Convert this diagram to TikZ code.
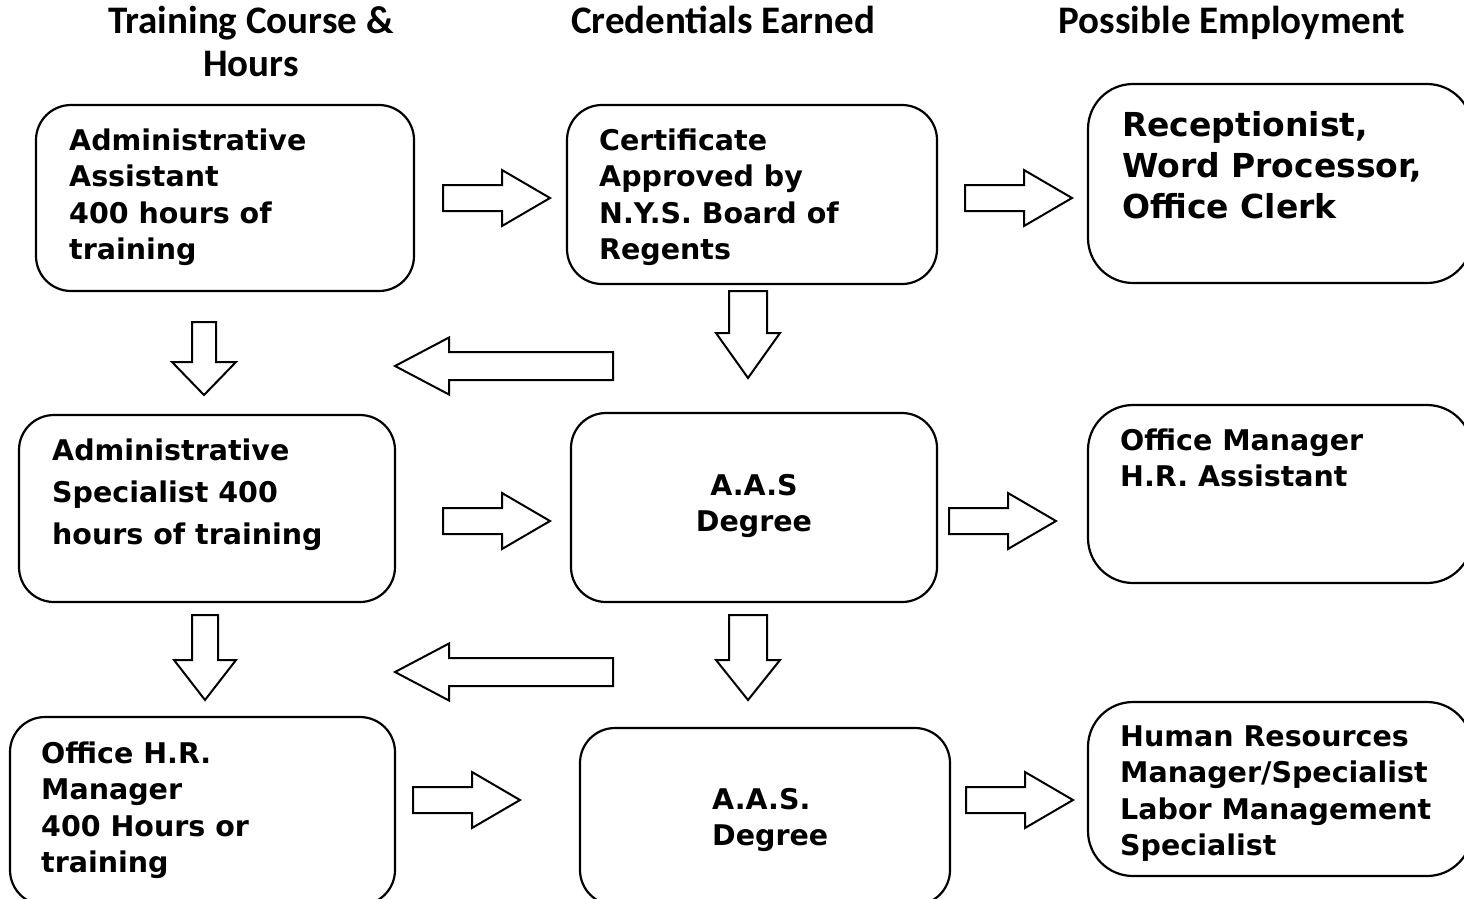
\documentclass[tikz,border=0pt]{standalone}
\usepackage{fontspec}
\setmainfont{DejaVu Sans}
\newfontfamily\headfont{Carlito}

% hollow block arrow: tail, angle, length, head length, shaft half width, head half width
\newcommand{\blockarrow}[6]{%
  \draw[arrowshape, shift={#1}, rotate=#2]
    (0,-#5) -- ({#3-#4},-#5) -- ({#3-#4},-#6) -- (#3,0)
    -- ({#3-#4},#6) -- ({#3-#4},#5) -- (0,#5) -- cycle;
}

\tikzset{
  box/.style = {draw, line width=2.2pt, rounded corners=35pt, inner sep=0pt},
  boxtext/.style = {anchor=base west, align=left, inner sep=0pt,
    font=\bfseries\fontsize{28.5}{36.5}\selectfont},
  headtext/.style = {anchor=north, align=center, inner sep=0pt,
    font=\headfont\bfseries\fontsize{39}{43}\selectfont},
  arrowshape/.style = {draw, line width=2pt, fill=white, line join=miter}
}

\begin{document}
\begin{tikzpicture}[x=1pt, y=-1pt]
        \clip (0,0) rectangle (1464,898);

        % column heads
        \node[headtext] (h-train) at (251,6) {Training Course \&\\Hours};
        \node[headtext] (h-cred) at (723,6) {Credentials Earned};
        \node[headtext] (h-job) at (1232,6) {Possible Employment};

        % boxes
        \node[box, minimum width=378pt, minimum height=186pt] (a1) at (225,198) {};
        \node[box, minimum width=370pt, minimum height=179pt] (c1) at (752,194.5) {};
        \node[box, rounded corners=45pt, minimum width=384pt, minimum height=199pt] (e1) at (1280,183.5) {};

        \node[box, minimum width=376pt, minimum height=187pt] (a2) at (207,508.5) {};
        \node[box, minimum width=366pt, minimum height=189pt] (c2) at (754,507.5) {};
        \node[box, rounded corners=45pt, minimum width=384pt, minimum height=178pt] (e2) at (1280,494) {};

        \node[box, minimum width=385pt, minimum height=188pt] (a3) at (202.5,811) {};
        \node[box, minimum width=370pt, minimum height=177pt] (c3) at (765,816.5) {};
        \node[box, rounded corners=45pt, minimum width=384pt, minimum height=174pt] (e3) at (1280,789) {};

        % box texts (placed at the baseline of their last line)
        \node[boxtext] (t-a1) at (69,259.5) {Administrative\\Assistant\\400 hours of\\training};
        \node[boxtext] (t-c1) at (599,259.5) {Certificate\\Approved by\\N.Y.S. Board of\\Regents};
        \node[boxtext, font=\bfseries\fontsize{33}{41}\selectfont] (t-e1) at (1122,218)
          {Receptionist,\\Word Processor,\\Office Clerk};

        \node[boxtext, font=\bfseries\fontsize{28.5}{42}\selectfont] (t-a2) at (52,544)
          {Administrative\\Specialist 400\\hours of training};
        \node[boxtext, anchor=base, align=center] (t-c2) at (754,531.5) {A.A.S\\Degree};
        \node[boxtext] (t-e2) at (1120,486.5) {Office Manager\\H.R. Assistant};

        \node[boxtext] (t-a3) at (41,872.5) {Office H.R.\\Manager\\400 Hours or\\training};
        \node[boxtext] (t-c3) at (712,845.5) {A.A.S.\\Degree};
        \node[boxtext] (t-e3) at (1120,855.5)
          {Human Resources\\Manager/Specialist\\Labor Management\\Specialist};

        % arrows to the right
        \foreach \x/\y in {443/198, 965/198, 443/521, 949/521, 413/800, 966/800} {
          \blockarrow{(\x,\y)}{0}{107}{48}{13}{28}
        }

        % arrows down
        \blockarrow{(204,322)}{-90}{73}{33}{12}{32}
        \blockarrow{(748,291)}{-90}{87}{45}{19}{32}
        \blockarrow{(205,615)}{-90}{85}{40}{13}{31}
        \blockarrow{(748,615)}{-90}{85}{40}{19}{32}

        % arrows back to the left
        \foreach \y in {366, 672} {
          \blockarrow{(613,\y)}{180}{218}{54}{14}{28.5}
        }
      \end{tikzpicture}
\end{document}
